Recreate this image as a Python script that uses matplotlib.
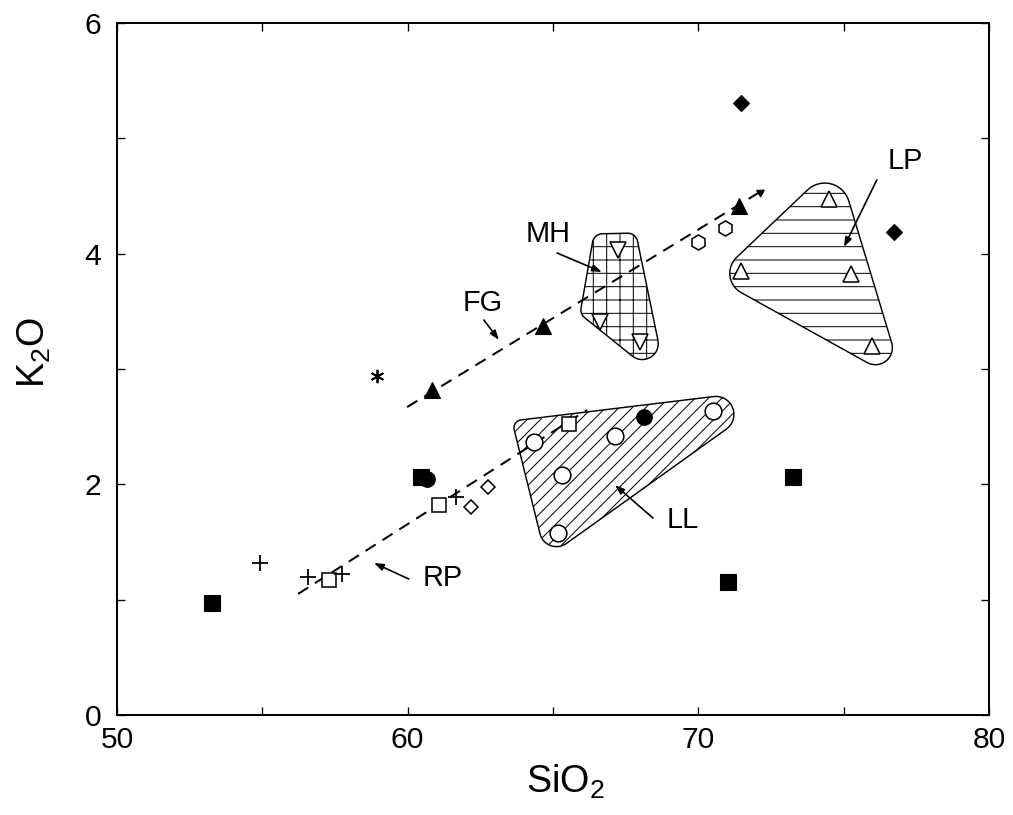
import numpy as np
import matplotlib
matplotlib.use("Agg")
import matplotlib.pyplot as plt
from matplotlib.patches import Polygon

plt.rcParams['font.family'] = ['Liberation Sans', 'DejaVu Sans']
plt.rcParams['mathtext.fontset'] = 'custom'
plt.rcParams['mathtext.rm'] = 'Liberation Sans'
plt.rcParams['hatch.linewidth'] = 0.9

# --- point data (SiO2, K2O) ---
sq_fill_x = [53.27, 60.46, 71.02, 73.25]
sq_fill_y = [0.97, 2.06, 1.15, 2.06]
circ_fill_x = [60.66, 68.13]
circ_fill_y = [2.05, 2.58]
dia_fill_x = [71.47, 76.73]
dia_fill_y = [5.31, 4.19]
tri_fill_x = [60.84, 64.65, 71.40]
tri_fill_y = [2.82, 3.37, 4.41]
star_x = [58.94]
star_y = [2.94]
hex_x = [69.99, 70.92]
hex_y = [4.10, 4.22]
tri_down_x = [67.23, 66.62, 67.99]
tri_down_y = [4.03, 3.41, 3.23]
tri_open_x = [74.49, 71.47, 75.25, 75.97]
tri_open_y = [4.47, 3.85, 3.82, 3.20]
circ_open_x = [64.34, 65.31, 67.13, 65.17, 70.50]
circ_open_y = [2.37, 2.08, 2.42, 1.58, 2.64]
sq_open_x = [65.55, 61.08, 57.29]
sq_open_y = [2.52, 1.82, 1.17]
plus_x = [54.92, 56.57, 57.74, 61.66]
plus_y = [1.32, 1.20, 1.22, 1.89]
dia_open_x = [62.18, 62.76]
dia_open_y = [1.80, 1.98]

# trend lines (start, end)
fg_x = [59.98, 72.12]
fg_y = [2.67, 4.535]
rp_x = [56.23, 66.17]
rp_y = [1.05, 2.645]

# field outlines: corner points and corner radii (px)
mh_x = [66.41, 67.85, 68.92, 65.93]
mh_y = [4.171, 4.179, 2.870, 3.477]
mh_r = [10, 10, 16, 10]
lp_x = [74.77, 70.57, 77.07]
lp_y = [4.795, 3.789, 2.879]
lp_r = [25, 22, 17]
ll_x = [63.59, 72.94, 64.76]
ll_y = [2.549, 2.835, 1.361]
ll_r = [8, 18, 17]

PX, PY = 872 / 30.0, 692 / 6.0  # pixels per data unit, used to round corners


def rounded_outline(xs, ys, radii, n=14):
    pts = np.column_stack([np.array(xs) * PX, np.array(ys) * PY])
    k = len(pts)
    out = []
    for i in range(k):
        v = pts[i]
        a = pts[i - 1] - v
        b = pts[(i + 1) % k] - v
        a = a / np.linalg.norm(a)
        b = b / np.linalg.norm(b)
        half = np.arccos(np.clip(a @ b, -1, 1)) / 2
        r = radii[i]
        bis = (a + b) / np.linalg.norm(a + b)
        c = v + bis * r / np.sin(half)
        t1 = v + a * r / np.tan(half)
        t2 = v + b * r / np.tan(half)
        g1 = np.arctan2(t1[1] - c[1], t1[0] - c[0])
        g2 = np.arctan2(t2[1] - c[1], t2[0] - c[0])
        dg = (g2 - g1 + np.pi) % (2 * np.pi) - np.pi
        for t in np.linspace(0, 1, n):
            g = g1 + dg * t
            out.append(c + r * np.array([np.cos(g), np.sin(g)]))
    out = np.array(out)
    return np.column_stack([out[:, 0] / PX, out[:, 1] / PY])


fig = plt.figure(figsize=(1013 / 80, 815 / 80), dpi=80)
ax = fig.add_axes([117 / 1013, 1 - 715 / 815, 872 / 1013, 692 / 815])

for xs, ys, rr, h in [(mh_x, mh_y, mh_r, '+'), (lp_x, lp_y, lp_r, '-'),
                      (ll_x, ll_y, ll_r, '//')]:
    ax.add_patch(Polygon(rounded_outline(xs, ys, rr), closed=True,
                         facecolor='none', edgecolor='k', hatch=h, lw=1.3, zorder=1))

dash = dict(color='k', lw=1.8, dashes=(6, 4), zorder=2)
ax.plot(fg_x, fg_y, **dash)
ax.plot(rp_x, rp_y, **dash)
ang = np.degrees(np.arctan2((fg_y[1] - fg_y[0]) * PY, (fg_x[1] - fg_x[0]) * PX))
ax.plot(fg_x[1], fg_y[1], marker=(3, 0, ang - 90), ms=8, color='k', zorder=3)

mew = 1.4
ax.plot(sq_fill_x, sq_fill_y, 's', ms=14, color='k', ls='none', zorder=4)
ax.plot(circ_fill_x, circ_fill_y, 'o', ms=14, color='k', ls='none', zorder=4)
ax.plot(dia_fill_x, dia_fill_y, 'D', ms=10.5, color='k', ls='none', zorder=4)
ax.plot(tri_fill_x, tri_fill_y, '^', ms=15, color='k', ls='none', zorder=4)
ax.plot(star_x, star_y, marker=(6, 2, 0), ms=12, color='k', mew=1.6, ls='none', zorder=4)
open_kw = dict(ls='none', mfc='white', mec='k', mew=mew, zorder=4)
ax.plot(hex_x, hex_y, 'h', ms=13.5, **open_kw)
ax.plot(tri_down_x, tri_down_y, 'v', ms=15, **open_kw)
ax.plot(tri_open_x, tri_open_y, '^', ms=15, **open_kw)
ax.plot(circ_open_x, circ_open_y, 'o', ms=15, **open_kw)
ax.plot(sq_open_x, sq_open_y, 's', ms=13, **open_kw)
ax.plot(dia_open_x, dia_open_y, 'D', ms=9.5, **open_kw)
ax.plot(plus_x, plus_y, '+', ms=14, color='k', mew=1.6, ls='none', zorder=4)

# field labels with arrows
labels = [('MH', (64.83, 4.17), (65.14, 4.006), (66.68, 3.841)),
          ('FG', (62.59, 3.57), (62.62, 3.425), (63.14, 3.252)),
          ('LP', (77.11, 4.80), (76.14, 4.639), (75.01, 4.058)),
          ('LL', (69.47, 1.69), (68.44, 1.708), (67.13, 1.994)),
          ('RP', (61.21, 1.19), (60.04, 1.179), (58.84, 1.318))]
for name, txt, tail, head in labels:
    ax.text(txt[0], txt[1], name, fontsize=26, ha='center', va='center')
    ax.annotate('', xy=head, xytext=tail,
                arrowprops=dict(arrowstyle='-|>,head_length=0.7,head_width=0.25',
                                color='k', lw=1.5, shrinkA=0, shrinkB=0))

ax.set_xlim(50, 80)
ax.set_ylim(0, 6)
ax.set_xticks([50, 60, 70, 80])
ax.set_xticks([55, 65, 75], minor=True)
ax.set_yticks([0, 2, 4, 6])
ax.set_yticks([1, 3, 5], minor=True)
ax.tick_params(which='both', direction='in', top=True, right=True, length=7, width=1.2)
ax.tick_params(axis='x', labelsize=27, pad=10)
ax.tick_params(axis='y', labelsize=27, pad=14)
for s in ax.spines.values():
    s.set_linewidth(1.8)

ax.set_xlabel('SiO$_2$', fontsize=34)
ax.xaxis.set_label_coords(0.514, -0.113)
ax.xaxis.label.set_va('baseline')
ax.set_ylabel('K$_2$O', fontsize=34)
ax.yaxis.set_label_coords(-0.095, 0.523)
ax.yaxis.label.set_va('center')

fig.savefig('out.png', dpi=80)
